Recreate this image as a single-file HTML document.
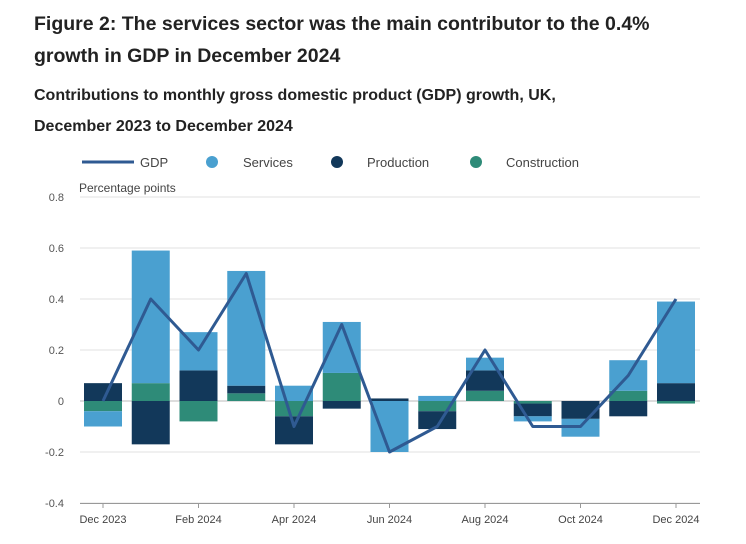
<!DOCTYPE html>
<html><head><meta charset="utf-8"><style>
body{margin:0;background:#fff;font-family:"Liberation Sans",sans-serif;}
.t{position:absolute;left:34px;color:#222;font-weight:bold;}
</style></head><body>
<div style="position:relative;width:746px;height:544px;overflow:hidden">
<div class="t" style="top:8px;font-size:19.5px;line-height:32px">Figure 2: The services sector was the main contributor to the 0.4%<br>growth in GDP in December 2024</div>
<div class="t" style="top:80px;font-size:16px;line-height:31px">Contributions to monthly gross domestic product (GDP) growth, UK,<br>December 2023 to December 2024</div>
<svg id="c" width="746" height="544" style="position:absolute;left:0;top:0"></svg>
</div>
<script>
const months=["Dec 2023","Jan 2024","Feb 2024","Mar 2024","Apr 2024","May 2024","Jun 2024","Jul 2024","Aug 2024","Sep 2024","Oct 2024","Nov 2024","Dec 2024"];
const services=[-0.06,0.52,0.15,0.45,0.06,0.2,-0.2,0.02,0.05,-0.02,-0.07,0.12,0.32];
const production=[0.07,-0.17,0.12,0.03,-0.11,-0.03,0.01,-0.07,0.08,-0.05,-0.07,-0.06,0.07];
const construction=[-0.04,0.07,-0.08,0.03,-0.06,0.11,0.0,-0.04,0.04,-0.01,0.0,0.04,-0.01];
const gdp=[0.0,0.4,0.2,0.5,-0.1,0.3,-0.2,-0.1,0.2,-0.1,-0.1,0.1,0.4];
const yTicks=[-0.4,-0.2,0,0.2,0.4,0.6,0.8];
const yTickLabels=["-0.4","-0.2","0","0.2","0.4","0.6","0.8"];
const NS="http://www.w3.org/2000/svg",svg=document.getElementById('c');
const y=v=>401-v*255;const x=i=>103+i*47.75;
function mk(t,a,p){const e=document.createElementNS(NS,t);for(const k in a)e.setAttribute(k,a[k]);(p||svg).appendChild(e);return e;}
yTicks.forEach((v,i)=>{
 const l=mk('line',{x1:80,x2:700,y1:y(v),y2:y(v),stroke:v===0?'#bbb':'#e2e2e2','stroke-width':1});
 
 
 const t=mk('text',{x:64,y:y(v)+4,'text-anchor':'end','font-size':11,fill:'#555'});t.textContent=yTickLabels[i];
 
 
});
const yt=mk('text',{x:79,y:192,'font-size':12,fill:'#444'});yt.textContent='Percentage points';


const ax=mk('line',{x1:80,x2:700,y1:503.5,y2:503.5,stroke:'#999'});


const series=[["construction",construction,"#2e8b78"],["production",production,"#12385a"],["services",services,"#4aa0d0"]];
months.forEach((m,i)=>{
 let pos=0,neg=0;
 series.forEach(([n,arr,col])=>{const v=arr[i];if(!v)return;let a,b;
  if(v>0){a=pos;b=pos+v;pos=b;}else{a=neg;b=neg+v;neg=b;}
  const r=mk('rect',{x:x(i)-19,width:38,y:Math.min(y(a),y(b)),height:Math.abs(y(a)-y(b)),fill:col});
  
  
 });
 if(i%2===0){const tk=mk('line',{x1:x(i),x2:x(i),y1:503,y2:508,stroke:'#999'});
  
  
  const t=mk('text',{x:x(i),y:523,'text-anchor':'middle','font-size':11,fill:'#444'});t.textContent=m;
  
  }
});
const pl=mk('polyline',{points:gdp.map((v,i)=>x(i)+','+y(v)).join(' '),fill:'none',stroke:'#2f5a92','stroke-width':3,'stroke-linejoin':'round'});


const leg=[["GDP",null,82,140],["Services","#4aa0d0",212,243],["Production","#12385a",337,367],["Construction","#2e8b78",476,506]];
leg.forEach(([n,col,mx,tx])=>{
 let s;if(col)s=mk('circle',{cx:mx,cy:162,r:6,fill:col});else s=mk('line',{x1:mx,x2:mx+52,y1:162,y2:162,stroke:'#2f5a92','stroke-width':3});
 
 
 const t=mk('text',{x:tx,y:167,'font-size':13,fill:'#444'});t.textContent=n;
 
 
});
</script>
</body></html>
